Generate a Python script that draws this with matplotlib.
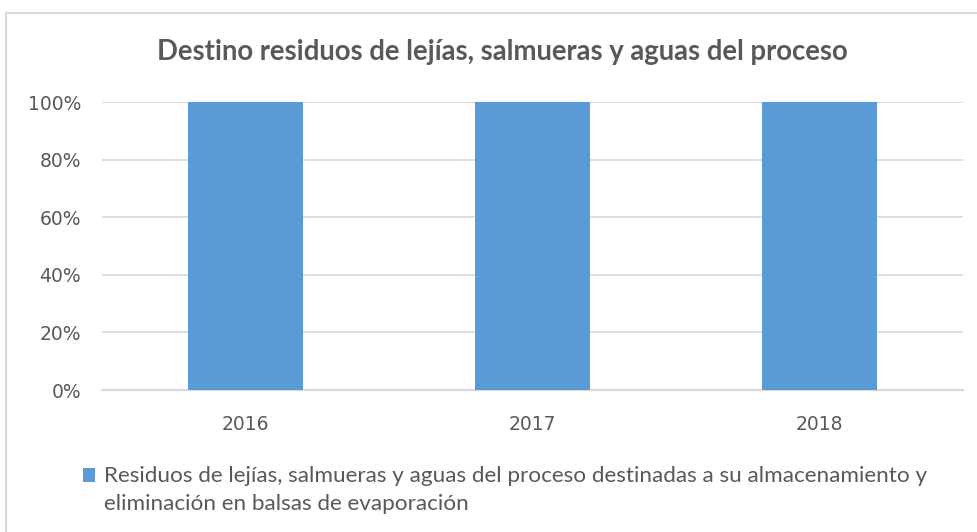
import matplotlib.pyplot as plt
from matplotlib.patches import Rectangle

# datos
anios = ['2016', '2017', '2018']
porcentajes = [1.0, 1.0, 1.0]
ticks_y = [0, 0.2, 0.4, 0.6, 0.8, 1.0]
etiquetas_y = ['0%', '20%', '40%', '60%', '80%', '100%']
titulo = 'Destino residuos de lejías, salmueras y aguas del proceso'
leyenda = ['Residuos de lejías, salmueras y aguas del proceso destinadas a su almacenamiento y',
           'eliminación en balsas de evaporación']

gris = '#595959'
azul = '#5B9BD5'
W, H = 977, 532

fig = plt.figure(figsize=(W / 100, H / 100), dpi=100)

# marco del grafico (se sale por la derecha y por abajo)
fig.patches.append(Rectangle((6 / W, -0.2), 1.2, 1.2 - 13 / H, transform=fig.transFigure,
                             fill=False, edgecolor='#D9D9D9', linewidth=1.5))

ax = fig.add_axes([102 / W, (H - 390) / H, (963 - 102) / W, (390 - 102) / H])
x = list(range(len(anios)))
ax.bar(x, porcentajes, width=0.4, color=azul, zorder=3)
ax.set_xlim(-0.5, len(anios) - 0.5)
ax.set_ylim(0, 1)
ax.set_yticks(ticks_y)
ax.set_yticklabels(etiquetas_y, fontsize=13.5, color=gris, family='DejaVu Sans')
ax.set_xticks(x)
ax.set_xticklabels(anios, fontsize=13.5, color=gris, family='DejaVu Sans')
ax.tick_params(axis='both', length=0)
ax.tick_params(axis='y', pad=15)
ax.tick_params(axis='x', pad=18)
ax.grid(axis='y', color='#D9D9D9', linewidth=1.2, zorder=0)
for lado in ['top', 'right', 'left']:
    ax.spines[lado].set_visible(False)
ax.spines['bottom'].set_color('#D9D9D9')
ax.spines['bottom'].set_linewidth(1.5)

fig.text(502 / W, 1 - 60 / H, titulo, ha='center', va='baseline', fontsize=19.8,
         color=gris, family='Lato', fontweight='bold')

# leyenda hecha a mano: cuadrado alineado con la primera linea
fig.patches.append(Rectangle((83 / W, 1 - 482 / H), 12 / W, 14 / H, transform=fig.transFigure,
                             facecolor=azul, edgecolor='none'))
for i, linea in enumerate(leyenda):
    fig.text(104 / W, 1 - (482 + 28 * i) / H, linea, ha='left', va='baseline', fontsize=16.2,
             color=gris, family='Lato')

fig.savefig('out.png', dpi=100)
